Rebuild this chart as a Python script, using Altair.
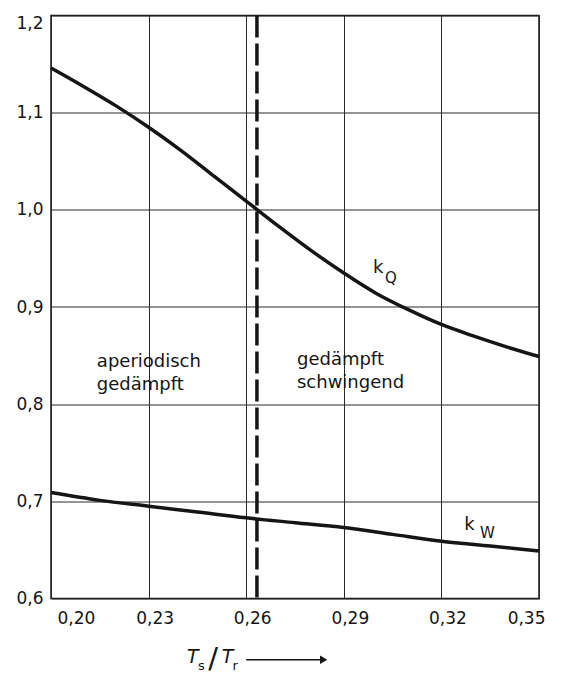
import altair as alt
import pandas as pd

# --- data ---
kq_x = [0.20, 0.21, 0.22, 0.23, 0.24, 0.25, 0.26, 0.27, 0.28, 0.29, 0.30, 0.31, 0.32, 0.33, 0.34, 0.35]
kq_y = [1.146, 1.127, 1.107, 1.085, 1.061, 1.035, 1.009, 0.983, 0.958, 0.935, 0.914, 0.897, 0.882, 0.870, 0.859, 0.849]
kw_x = [0.20, 0.215, 0.23, 0.245, 0.26, 0.275, 0.29, 0.305, 0.32, 0.335, 0.35]
kw_y = [0.709, 0.701, 0.695, 0.689, 0.683, 0.678, 0.673, 0.666, 0.659, 0.654, 0.649]
boundary_x = [0.2633]
x_ticks = [0.20, 0.23, 0.26, 0.29, 0.32, 0.35]
y_ticks = [0.6, 0.7, 0.8, 0.9, 1.0, 1.1, 1.2]

region_text = ["aperiodisch", "gedämpft", "gedämpft", "schwingend"]
region_x = [0.2141, 0.2141, 0.2756, 0.2756]
region_y = [0.8435, 0.8199, 0.8456, 0.8222]

main_text = ["k", "k"]
main_x = [0.2990, 0.3270]
main_y = [0.940, 0.676]
sub_text = ["Q", "W"]
sub_x = [0.3027, 0.3319]
sub_y = [0.930, 0.6675]

title_T_text = ["T", "T"]
title_T_x = [0.2418, 0.2525]
title_T_y = [0.540, 0.540]
title_sub_text = ["s", "r"]
title_sub_x = [0.2452, 0.2558]
title_sub_y = [0.5307, 0.5307]
slash_x = [0.2483]
slash_y = [0.538]
arrow_x = [0.2600]
arrow_x2 = [0.2838]
arrow_y = [0.537]

FONT = "DejaVu Sans"
INK = "#151515"

xs = alt.Scale(domain=[0.20, 0.35], nice=False, zero=False)
ys = alt.Scale(domain=[0.6, 1.2], nice=False, zero=False)

curves = pd.DataFrame(
    {"x": kq_x + kw_x, "y": kq_y + kw_y, "s": ["kQ"] * len(kq_x) + ["kW"] * len(kw_x)}
)

base = alt.Chart(curves).mark_line(
    color=INK, strokeWidth=3.5, interpolate="monotone"
).encode(
    x=alt.X(
        "x:Q",
        scale=xs,
        axis=alt.Axis(
            values=x_ticks,
            labelExpr="replace(format(datum.value, '.2f'), '.', ',')",
            title=None,
            labelPadding=12,
            labelOffset=6,
        ),
    ),
    y=alt.Y(
        "y:Q",
        scale=ys,
        axis=alt.Axis(
            values=y_ticks,
            labelExpr="replace(format(datum.value, '.1f'), '.', ',')",
            title=None,
            labelPadding=8,
            labelBaseline=alt.condition("datum.value > 1.19", alt.value("top"), alt.value("middle")),
        ),
    ),
    detail="s:N",
)

dash = alt.Chart(pd.DataFrame({"x": boundary_x})).mark_rule(
    color=INK, strokeWidth=3.5, strokeDash=[22, 6]
).encode(x=alt.X("x:Q", scale=xs))

regions = alt.Chart(
    pd.DataFrame({"x": region_x, "y": region_y, "t": region_text})
).mark_text(
    align="left", baseline="middle", font=FONT, fontSize=18, color=INK
).encode(x=alt.X("x:Q", scale=xs), y=alt.Y("y:Q", scale=ys), text="t:N")

kmain = alt.Chart(
    pd.DataFrame({"x": main_x, "y": main_y, "t": main_text})
).mark_text(
    align="left", baseline="middle", font=FONT, fontSize=18, color=INK
).encode(x=alt.X("x:Q", scale=xs), y=alt.Y("y:Q", scale=ys), text="t:N")

ksub = alt.Chart(
    pd.DataFrame({"x": sub_x, "y": sub_y, "t": sub_text})
).mark_text(
    align="left", baseline="middle", font=FONT, fontSize=15, color=INK
).encode(x=alt.X("x:Q", scale=xs), y=alt.Y("y:Q", scale=ys), text="t:N")

tT = alt.Chart(
    pd.DataFrame({"x": title_T_x, "y": title_T_y, "t": title_T_text})
).mark_text(
    align="left", baseline="middle", font=FONT, fontSize=19, fontStyle="italic", color=INK
).encode(x=alt.X("x:Q", scale=xs), y=alt.Y("y:Q", scale=ys), text="t:N")

tsub = alt.Chart(
    pd.DataFrame({"x": title_sub_x, "y": title_sub_y, "t": title_sub_text})
).mark_text(
    align="left", baseline="middle", font=FONT, fontSize=13, color=INK
).encode(x=alt.X("x:Q", scale=xs), y=alt.Y("y:Q", scale=ys), text="t:N")

tslash = alt.Chart(
    pd.DataFrame({"x": slash_x, "y": slash_y, "t": ["/"]})
).mark_text(
    align="left", baseline="middle", font=FONT, fontSize=29, color=INK
).encode(x=alt.X("x:Q", scale=xs), y=alt.Y("y:Q", scale=ys), text="t:N")

arrow_line = alt.Chart(
    pd.DataFrame({"x": arrow_x, "x2": arrow_x2, "y": arrow_y})
).mark_rule(color=INK, strokeWidth=1.5).encode(
    x=alt.X("x:Q", scale=xs), x2="x2:Q", y=alt.Y("y:Q", scale=ys)
)

arrow_head = alt.Chart(
    pd.DataFrame({"x": arrow_x2, "y": arrow_y})
).mark_point(shape="triangle-right", filled=True, size=70, color=INK, opacity=1).encode(
    x=alt.X("x:Q", scale=xs), y=alt.Y("y:Q", scale=ys)
)

chart = alt.layer(
    base, dash, regions, kmain, ksub, tT, tsub, tslash, arrow_line, arrow_head
).properties(
    width=488,
    height=583,
    autosize=alt.AutoSizeParams(type="none"),
    padding={"left": 43, "top": 7.5, "right": 15, "bottom": 80},
    background="white",
).configure_view(
    stroke=INK, strokeWidth=1.5
).configure_axis(
    grid=True,
    gridColor="#2a2a2a",
    gridWidth=1,
    gridOpacity=1,
    domain=False,
    ticks=False,
    labelFont=FONT,
    labelFontSize=17,
    labelColor=INK,
)

chart.save("out.html", embed_options={"renderer": "svg", "actions": False})
